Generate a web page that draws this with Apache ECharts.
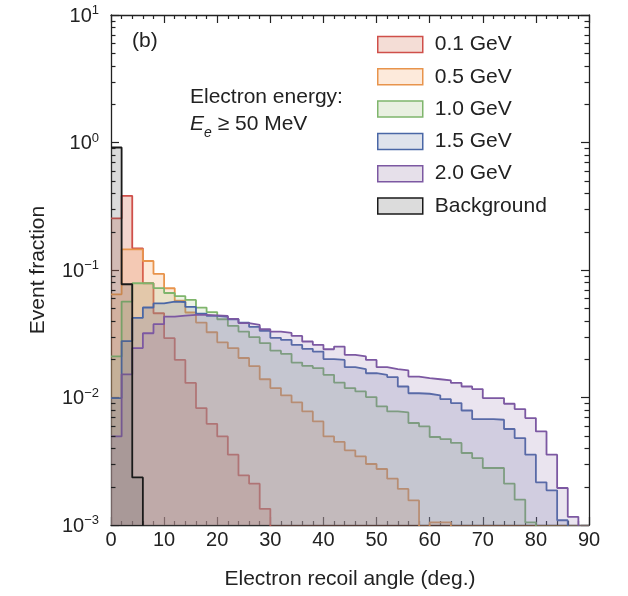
<!DOCTYPE html>
<html>
<head>
<meta charset="utf-8">
<script src="https://cdn.jsdelivr.net/npm/echarts@6/dist/echarts.min.js"></script>
<style>
  html, body { margin: 0; padding: 0; background: #fff; }
  #chart { width: 628px; height: 596px; }
</style>
</head>
<body>
<div id="chart"></div>
<script>
const FONT = 'Liberation Sans, Arial, sans-serif';

// left edges of the 2-degree bins
const binEdges = [0, 2, 4, 6, 8, 10, 12, 14, 16, 18, 20, 22, 24, 26, 28, 30, 32, 34, 36, 38,
    40, 42, 44, 46, 48, 50, 52, 54, 56, 58, 60, 62, 64, 66, 68, 70, 72, 74, 76, 78,
    80, 82, 84, 86, 88];
const binEnd = 90;

const seriesNames = ['0.1 GeV', '0.5 GeV', '1.0 GeV', '1.5 GeV', '2.0 GeV', 'Background'];

const e01 = [0.254, 0.382, 0.148, 0.0787, 0.0458, 0.0292, 0.0197, 0.0130, 0.00826, 0.00622,
    0.00495, 0.00356, 0.00245, 0.00211, 0.00134, 0, 0, 0, 0, 0,
    0, 0, 0, 0, 0, 0, 0, 0, 0, 0, 0, 0, 0, 0, 0, 0, 0, 0, 0, 0, 0, 0, 0, 0, 0];
const e05 = [0.0645, 0.145, 0.145, 0.1176, 0.0931, 0.0719, 0.0575, 0.0464, 0.0387, 0.0325,
    0.0271, 0.0244, 0.0204, 0.0176, 0.0139, 0.01186, 0.01038, 0.00915, 0.00777, 0.00649,
    0.00495, 0.00448, 0.00385, 0.00345, 0.00301, 0.00275, 0.00231, 0.00192, 0.00156, 0,
    0.00105, 0.00105, 0, 0, 0, 0, 0, 0, 0, 0, 0, 0, 0, 0, 0];
const e10 = [0.0210, 0.0565, 0.0787, 0.0787, 0.072, 0.066, 0.0625, 0.0582, 0.0507, 0.0468,
    0.0411, 0.0364, 0.0329, 0.0297, 0.0267, 0.0233, 0.0220, 0.0188, 0.0177, 0.0170,
    0.01506, 0.0131, 0.01186, 0.01115, 0.01007, 0.00851, 0.00777, 0.00763, 0.00631, 0.00593,
    0.00490, 0.00472, 0.00440, 0.00367, 0.00335, 0.00280, 0.00280, 0.00211, 0.00158, 0.00105,
    0, 0, 0, 0, 0];
const e15 = [0.00989, 0.0277, 0.0421, 0.0508, 0.0547, 0.0565, 0.0561, 0.0513, 0.0455, 0.0436,
    0.0429, 0.0411, 0.0387, 0.0358, 0.0333, 0.0294, 0.0283, 0.0259, 0.0241, 0.0229,
    0.0200, 0.0197, 0.0173, 0.0167, 0.0155, 0.01506, 0.01445, 0.0122, 0.0108, 0.0107,
    0.0104, 0.00971, 0.00904, 0.00791, 0.00677, 0.00677, 0.00669, 0.00566, 0.00481, 0.00356,
    0.00216, 0.00187, 0.00109, 0, 0];
const e20 = [0.00495, 0.0152, 0.0244, 0.0319, 0.0376, 0.0431, 0.0439, 0.0444, 0.0444, 0.0440,
    0.0436, 0.0413, 0.0383, 0.0371, 0.0343, 0.0329, 0.0321, 0.0304, 0.0275, 0.0259,
    0.0239, 0.0251, 0.0216, 0.0210, 0.0197, 0.0173, 0.0167, 0.0163, 0.0146, 0.0142,
    0.0139, 0.0136, 0.0130, 0.0122, 0.01164, 0.00989, 0.00989, 0.00893, 0.00811, 0.00690,
    0.00542, 0.00356, 0.00195, 0.00116, 0];
const bkg = [0.914, 0.0773, 0.00236, 0, 0, 0, 0, 0, 0, 0, 0, 0, 0, 0, 0, 0, 0, 0, 0, 0,
    0, 0, 0, 0, 0, 0, 0, 0, 0, 0, 0, 0, 0, 0, 0, 0, 0, 0, 0, 0, 0, 0, 0, 0, 0];

const lineColors = ['#cf4f4a', '#e8944c', '#7fb56c', '#4a67a6', '#7c58a2', '#1a1a1a'];
const fillColors = ['rgba(210,100,75,0.27)', 'rgba(245,165,95,0.24)', 'rgba(160,195,130,0.2)',
    'rgba(95,110,160,0.2)', 'rgba(150,120,175,0.2)', 'rgba(90,90,90,0.22)'];
const patchColors = ['#f4ddd6', '#fdeadb', '#e9f0e1', '#dfe3ec', '#e6e0ea', '#dcdcdc'];

const minorY = [0.002, 0.003, 0.004, 0.005, 0.006, 0.007, 0.008, 0.009,
    0.02, 0.03, 0.04, 0.05, 0.06, 0.07, 0.08, 0.09,
    0.2, 0.3, 0.4, 0.5, 0.6, 0.7, 0.8, 0.9,
    2, 3, 4, 5, 6, 7, 8, 9];

const FLOOR = 1e-4; // empty bins drop below the axis and get clipped

function histPoints(vals) {
    const pts = binEdges.map((x, i) => [x, vals[i] > 0 ? vals[i] : FLOOR]);
    const last = vals[vals.length - 1];
    pts.push([binEnd, last > 0 ? last : FLOOR]);
    return pts;
}

const allVals = [e01, e05, e10, e15, e20, bkg];

const chart = echarts.init(document.getElementById('chart'), null, { renderer: 'canvas' });

const axisLineStyle = { color: '#222', width: 1.3 };

const series = allVals.map((vals, i) => ({
    name: seriesNames[i],
    type: 'line',
    step: 'end',
    showSymbol: false,
    symbol: 'none',
    color: lineColors[i],
    lineStyle: { color: lineColors[i], width: 1.8 },
    areaStyle: { color: fillColors[i], origin: 'start', opacity: 1 },
    data: histPoints(vals),
    z: 2 + i
}));

const supMap = { '-3': '−3', '-2': '−2', '-1': '−1', '0': '0', '1': '1' };

const option = {
    animation: false,
    textStyle: { fontFamily: FONT },
    grid: { left: 111, right: 39, top: 15, bottom: 71 },
    legend: {
        orient: 'vertical',
        left: 377,
        top: 34,
        padding: 0,
        icon: 'rect',
        itemWidth: 45,
        itemHeight: 16,
        itemGap: 11.3,
        textStyle: { fontSize: 21, color: '#222', fontFamily: FONT, padding: [0, 0, 0, 7] },
        itemStyle: { borderWidth: 1.5 },
        data: seriesNames.map((n, i) => ({
            name: n,
            itemStyle: { color: patchColors[i], borderColor: lineColors[i], borderWidth: 1.5 }
        }))
    },
    xAxis: [
        {
            type: 'value', min: 0, max: 90, interval: 10, position: 'bottom',
            name: 'Electron recoil angle (deg.)', nameLocation: 'middle', nameGap: 44,
            nameTextStyle: { fontSize: 21, color: '#222', fontFamily: FONT },
            axisLine: { onZero: false, lineStyle: axisLineStyle },
            axisTick: { inside: true, length: 8, lineStyle: { color: '#222', width: 1.2 } },
            minorTick: { show: true, splitNumber: 5, length: 4, lineStyle: { color: '#222', width: 1.2 } },
            axisLabel: { fontSize: 20, color: '#222', margin: 5, fontFamily: FONT },
            splitLine: { show: false }
        },
        {
            type: 'value', min: 0, max: 90, interval: 10, position: 'top',
            axisLine: { onZero: false, lineStyle: axisLineStyle },
            axisTick: { inside: true, length: 8, lineStyle: { color: '#222', width: 1.2 } },
            minorTick: { show: true, splitNumber: 5, length: 4, lineStyle: { color: '#222', width: 1.2 } },
            axisLabel: { show: false },
            splitLine: { show: false }
        }
    ],
    yAxis: [
        {
            type: 'log', logBase: 10, min: 0.001, max: 10, position: 'left',
            name: 'Event fraction', nameLocation: 'middle', nameGap: 62,
            nameTextStyle: { fontSize: 21, color: '#222', fontFamily: FONT },
            axisLine: { onZero: false, lineStyle: axisLineStyle },
            axisTick: { inside: true, length: 8, lineStyle: { color: '#222', width: 1.2 } },
            axisLabel: {
                margin: 12,
                formatter: function (v) {
                    const e = Math.round(Math.log10(v));
                    return '{b|10}{s|' + supMap[String(e)] + '}';
                },
                rich: {
                    b: { fontSize: 20, color: '#222', fontFamily: FONT, lineHeight: 22, verticalAlign: 'bottom' },
                    s: { fontSize: 13, color: '#222', fontFamily: FONT, lineHeight: 22, verticalAlign: 'top' }
                }
            },
            splitLine: { show: false }
        },
        {
            type: 'log', logBase: 10, min: 0.001, max: 10, position: 'right',
            axisLine: { onZero: false, lineStyle: axisLineStyle },
            axisTick: { inside: true, length: 8, lineStyle: { color: '#222', width: 1.2 } },
            axisLabel: { show: false },
            splitLine: { show: false }
        }
    ],
    graphic: [
        {
            id: 'panel', type: 'text', left: 132, top: 31,
            style: { text: '(b)', fontSize: 21, fontFamily: FONT, fill: '#222' }
        },
        {
            id: 'note1', type: 'text', left: 190, top: 87,
            style: { text: 'Electron energy:', fontSize: 21, fontFamily: FONT, fill: '#222' }
        },
        {
            id: 'note2', type: 'text', left: 190, top: 112,
            style: {
                text: '{i|E}{sub|e}{t| ≥ 50 MeV}',
                fill: '#222',
                rich: {
                    i: { fontSize: 21, fontStyle: 'italic', fontFamily: FONT, fill: '#222', lineHeight: 28, verticalAlign: 'top', padding: [2, 0, 0, 0] },
                    sub: { fontSize: 14, fontStyle: 'italic', fontFamily: FONT, fill: '#222', lineHeight: 28, verticalAlign: 'bottom' },
                    t: { fontSize: 21, fontFamily: FONT, fill: '#222', lineHeight: 28, verticalAlign: 'top', padding: [2, 0, 0, 0] }
                }
            }
        }
    ],
    series: series
};

chart.setOption(option);

// minor log ticks (2..9 per decade) on both vertical frame edges,
// placed through the chart's own y scale
const tickEls = [];
minorY.forEach((v, k) => {
    const l = chart.convertToPixel({ xAxisIndex: 0, yAxisIndex: 0 }, [0, v]);
    const r = chart.convertToPixel({ xAxisIndex: 0, yAxisIndex: 0 }, [binEnd, v]);
    const y = Math.round(l[1]) + 0.5;
    tickEls.push({
        id: 'tl' + k, type: 'line', z: 50, silent: true,
        shape: { x1: l[0], y1: y, x2: l[0] + 4.5, y2: y },
        style: { stroke: '#222', lineWidth: 1.2 }
    });
    tickEls.push({
        id: 'tr' + k, type: 'line', z: 50, silent: true,
        shape: { x1: r[0], y1: y, x2: r[0] - 4.5, y2: y },
        style: { stroke: '#222', lineWidth: 1.2 }
    });
});
chart.setOption({ graphic: tickEls });
</script>
</body>
</html>
